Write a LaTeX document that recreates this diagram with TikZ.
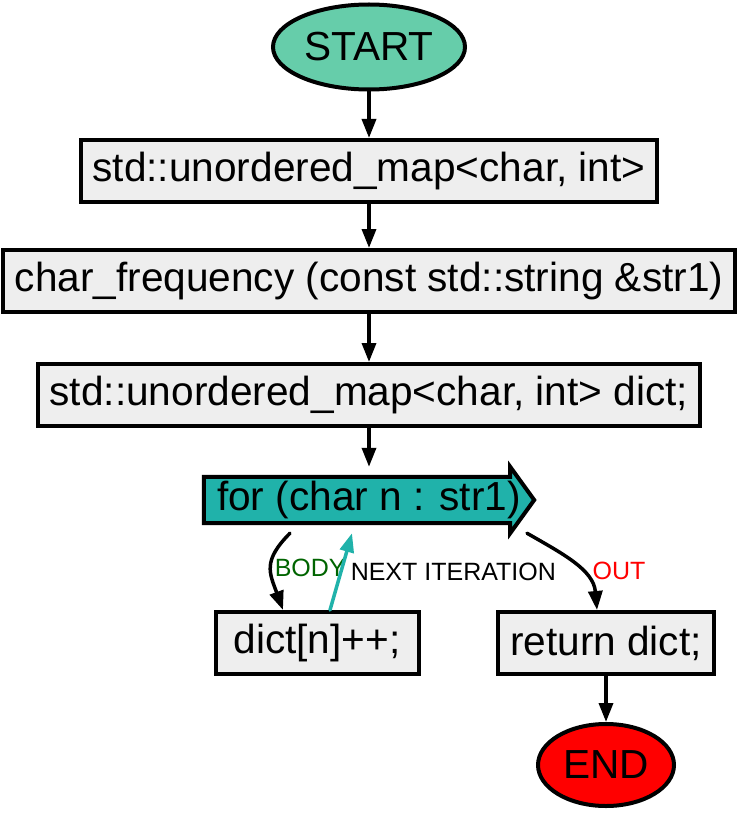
\documentclass[tikz,border=0pt]{standalone}
\usepackage{fontspec}
\setmainfont{Liberation Sans}
\usetikzlibrary{arrows.meta,shapes.geometric,backgrounds}
\definecolor{startgreen}{HTML}{66CDAA}
\definecolor{loopteal}{HTML}{20B2AA}
\definecolor{boxgray}{HTML}{EEEEEE}
\definecolor{bodygreen}{HTML}{006400}
\begin{document}
\begin{tikzpicture}[line cap=round,>={Triangle[length=19pt,width=14pt]},x=1pt,y=-1pt,
		stmt/.style={draw,line width=4pt,fill=boxgray,minimum height=62pt,inner xsep=12pt,font=\fontsize{40.6}{48}\selectfont},
		term/.style={draw,ellipse,line width=4pt,inner sep=0pt,font=\fontsize{40.6}{48}\selectfont},
		flow/.style={->,line width=3.5pt},
		lbl/.style={font=\fontsize{25}{30}\selectfont,inner sep=2pt}]
		\useasboundingbox (0,0) rectangle (737,813);
		\node[term,fill=startgreen,minimum width=192pt,minimum height=85pt] (start) at (369,47) {START};
		\node[stmt] (map) at (369,171) {std::unordered\_map<char, int>};
		\node[stmt] (func) at (369,281) {char\_frequency (const std::string \&str1)};
		\node[stmt] (decl) at (369,395) {std::unordered\_map<char, int> dict;};
		\node[font=\fontsize{40.6}{48}\selectfont,minimum width=330pt,minimum height=66pt,inner sep=0pt] (loop) at (369,500) {for (char n : str1)};
		\begin{scope}[on background layer]
			\draw[line width=4pt,line join=miter,fill=loopteal] ([yshift=-10pt]loop.north west) -- ([xshift=-24pt,yshift=-10pt]loop.north east) -- ([xshift=-24pt]loop.north east) -- (loop.east) -- ([xshift=-24pt]loop.south east) -- ([xshift=-24pt,yshift=10pt]loop.south east) -- ([yshift=10pt]loop.south west) -- cycle;
		\end{scope}
		\node[stmt,minimum width=203pt] (body) at (317,643) {dict[n]++;};
		\node[stmt] (ret) at (606,643) {return dict;};
		\node[term,fill=red,minimum width=136pt,minimum height=82pt] (end) at (606,765) {END};
		\draw[flow] (start.south) -- (map.north);
		\draw[flow] (map.south) -- (func.north);
		\draw[flow] (func.south) -- (decl.north);
		\draw[flow] (decl.south) -- (loop.north);
		\draw[flow] ([xshift=-79pt]loop.south) to[out=-135,in=110,looseness=1.3] node[lbl,midway,right,text=bodygreen] {BODY} ([xshift=-34pt]body.north);
		\draw[flow,loopteal] ([xshift=13pt]body.north) -- node[lbl,midway,right=6pt,text=black] {NEXT ITERATION} ([xshift=-17pt]loop.south);
		\draw[flow] ([xshift=158pt]loop.south) to[out=-30,in=95] node[lbl,pos=0.6,right=8pt,text=red] {OUT} ([xshift=-9pt]ret.north);
		\draw[flow] (ret.south) -- (end.north);
	\end{tikzpicture}
\end{document}
